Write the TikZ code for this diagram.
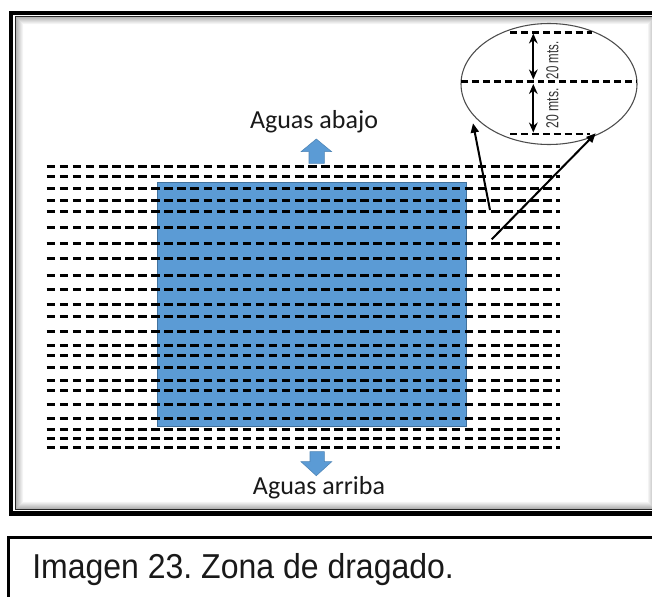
\documentclass[tikz,border=0pt]{standalone}
\usepackage{fontspec}
\setmainfont{Liberation Sans}
\newfontfamily\calibri{Carlito}
\usetikzlibrary{arrows.meta,shapes.geometric}
\definecolor{offblue}{HTML}{5B9BD5}
\definecolor{offblueedge}{HTML}{41719C}
\frenchspacing
\begin{document}
\begin{tikzpicture}[x=0.75pt,y=-0.75pt,
  dline/.style={line width=2.25pt, dash pattern=on 6.4pt off 3.4pt},
  eline/.style={line width=2pt, dash pattern=on 5.2pt off 3pt},
  blockarrow/.style={fill=offblue, draw=offblue!85!black, line width=0.4pt},
  pointer/.style={line width=1.5pt, -{Triangle[length=7pt,width=6pt]}},
  dim/.style={line width=1.4pt, {Stealth[length=7.5pt,width=6.5pt]}-{Stealth[length=7.5pt,width=6.5pt]}},
  lbl/.style={inner sep=0pt, text=black!80, font=\fontsize{13}{13}\selectfont},
  aguas/.style={inner sep=0pt, text=black!90, font=\calibri\fontsize{19.5}{20}\selectfont}]
\useasboundingbox (0,0) rectangle (652,596);
\fill[white] (0,0) rectangle (652,596);
% frame inner shading
\foreach \i in {1,...,8}{
  \pgfmathsetmacro{\g}{max(0,34-4.2*\i)}
  \draw[line width=0.8pt, black!\g] (15.3+\i,16.6+\i) rectangle (655-\i,509.5-\i);
}
% frame lines
\draw[line width=3.4pt] (11.2,13) rectangle (662,513.3);
\draw[line width=1pt, black!85] (15.3,16.6) rectangle (656,509.5);
% blue zone
\path[fill=offblue, draw=offblueedge, line width=0.8pt] (157.3,182.3) rectangle (466.7,426.7);
% dashed lines
\foreach \y in {166,176.7,188.3,200.7,211,227.7,243.3,258.6,275.7,289.3,304.3,316.7,331,345,355,367.3,380.7,390,404.5,418.3,429.5,438.8,447.7}{
  \draw[dline] (46.7,\y) -- (559.8,\y);
}
% block arrows
\path[blockarrow] (316.3,139) -- (331.7,151.7) -- (324.3,151.7) -- (324.3,163.3) -- (309,163.3) -- (309,151.7) -- (301,151.7) -- cycle;
\path[blockarrow] (316.3,475.7) -- (331.7,461.7) -- (324.3,461.7) -- (324.3,451.7) -- (310,451.7) -- (310,461.7) -- (301,461.7) -- cycle;
% texts
\node[aguas] (abajo) at (314,122) {Aguas abajo};
\node[aguas] (arriba) at (319,488) {Aguas arriba};
% detail ellipse
\node[ellipse, draw=black!70, line width=0.8pt, minimum width=132pt, minimum height=90.75pt, inner sep=0pt] (ell) at (549,84) {};
\draw[eline] (461,81.7) -- (637,81.7);
\draw[eline] (510,32.7) -- (592,32.7);
\draw[eline] (510,134) -- (590,134);
\coordinate (t1) at (533.3,33.5);
\coordinate (t2) at (533.3,79.5);
\coordinate (b1) at (533.3,84);
\coordinate (b2) at (533.3,132.5);
\draw[dim] (t1) -- (t2);
\draw[dim] (b1) -- (b2);
\node[lbl, rotate=90] (m1) at (552.5,60.3) {\scalebox{0.66}[1]{20 mts.}};
\node[lbl, rotate=90] (m2) at (552.5,108.3) {\scalebox{0.7}[1]{20 mts.}};
% pointers
\coordinate (p1) at (490,210);
\coordinate (q1) at (473,123.3);
\coordinate (p2) at (491.7,239.3);
\coordinate (q2) at (595.7,133.3);
\draw[pointer] (p1) -- (q1);
\draw[pointer] (p2) -- (q2);
% caption box
\draw[line width=1.6pt] (8.5,537.5) rectangle (670,620);
\node[anchor=west, inner sep=0pt, text=black!90, font=\fontsize{24}{24}\selectfont] (cap) at (32,570) {\scalebox{1.0}[1.08]{Imagen 23. Zona de dragado.}};
\end{tikzpicture}
\end{document}
